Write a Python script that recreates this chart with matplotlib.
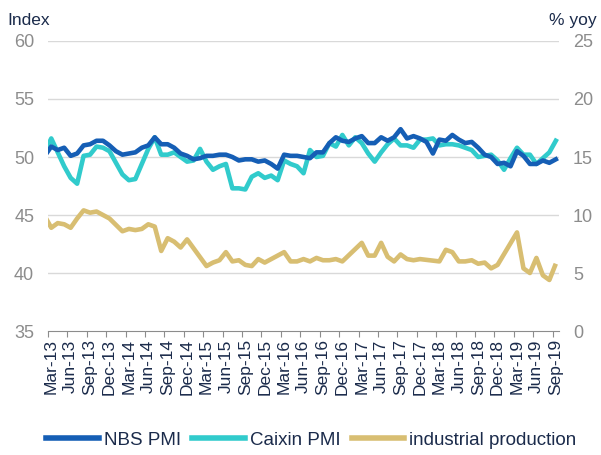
import numpy as np
import matplotlib
matplotlib.use("Agg")
import matplotlib.pyplot as plt
from matplotlib.lines import Line2D

plt.rcParams['font.family'] = ['Liberation Sans', 'DejaVu Sans']

# Monthly data, Feb-13 .. Sep-19 (first point partly clipped at left edge)
months = ['Feb-13','Mar-13','Apr-13','May-13','Jun-13','Jul-13','Aug-13','Sep-13','Oct-13','Nov-13','Dec-13',
          'Jan-14','Feb-14','Mar-14','Apr-14','May-14','Jun-14','Jul-14','Aug-14','Sep-14','Oct-14','Nov-14','Dec-14',
          'Jan-15','Feb-15','Mar-15','Apr-15','May-15','Jun-15','Jul-15','Aug-15','Sep-15','Oct-15','Nov-15','Dec-15',
          'Jan-16','Feb-16','Mar-16','Apr-16','May-16','Jun-16','Jul-16','Aug-16','Sep-16','Oct-16','Nov-16','Dec-16',
          'Jan-17','Feb-17','Mar-17','Apr-17','May-17','Jun-17','Jul-17','Aug-17','Sep-17','Oct-17','Nov-17','Dec-17',
          'Jan-18','Feb-18','Mar-18','Apr-18','May-18','Jun-18','Jul-18','Aug-18','Sep-18','Oct-18','Nov-18','Dec-18',
          'Jan-19','Feb-19','Mar-19','Apr-19','May-19','Jun-19','Jul-19','Aug-19','Sep-19']

nbs_pmi = [50.1, 50.9, 50.6, 50.8, 50.1, 50.3, 51.0, 51.1, 51.4, 51.4, 51.0,
           50.5, 50.2, 50.3, 50.4, 50.8, 51.0, 51.7, 51.1, 51.1, 50.8, 50.3, 50.1,
           49.8, 49.9, 50.1, 50.1, 50.2, 50.2, 50.0, 49.7, 49.8, 49.8, 49.6, 49.7,
           49.4, 49.0, 50.2, 50.1, 50.1, 50.0, 49.9, 50.4, 50.4, 51.2, 51.7, 51.4,
           51.3, 51.6, 51.8, 51.2, 51.2, 51.7, 51.4, 51.7, 52.4, 51.6, 51.8, 51.6,
           51.3, 50.3, 51.5, 51.4, 51.9, 51.5, 51.2, 51.3, 50.8, 50.2, 50.0, 49.4,
           49.5, 49.2, 50.5, 50.1, 49.4, 49.4, 49.7, 49.5, 49.8]

caixin_pmi = [50.4, 51.6, 50.4, 49.2, 48.2, 47.7, 50.1, 50.2, 50.9, 50.8, 50.5,
              49.5, 48.5, 48.0, 48.1, 49.4, 50.7, 51.7, 50.2, 50.2, 50.4, 50.0, 49.6,
              49.7, 50.7, 49.6, 48.9, 49.2, 49.4, 47.3, 47.3, 47.2, 48.3, 48.6, 48.2,
              48.4, 48.0, 49.7, 49.4, 49.2, 48.6, 50.6, 50.0, 50.1, 51.2, 50.9, 51.9,
              51.0, 51.7, 51.2, 50.3, 49.6, 50.4, 51.1, 51.6, 51.0, 51.0, 50.8, 51.5,
              51.5, 51.6, 51.0, 51.1, 51.1, 51.0, 50.8, 50.6, 50.0, 50.1, 50.2, 49.7,
              48.9, 49.9, 50.8, 50.2, 50.2, 49.4, 49.9, 50.4, 51.4]

nan = np.nan
industrial_production = [9.9, 8.9, 9.3, 9.2, 8.9, 9.7, 10.4, 10.2, 10.3, 10.0, 9.7,
                         nan, 8.6, 8.8, 8.7, 8.8, 9.2, 9.0, 6.9, 8.0, 7.7, 7.2, 7.9,
                         nan, nan, 5.6, 5.9, 6.1, 6.8, 6.0, 6.1, 5.7, 5.6, 6.2, 5.9,
                         nan, nan, 6.8, 6.0, 6.0, 6.2, 6.0, 6.3, 6.1, 6.1, 6.2, 6.0,
                         nan, nan, 7.6, 6.5, 6.5, 7.6, 6.4, 6.0, 6.6, 6.2, 6.1, 6.2,
                         nan, nan, 6.0, 7.0, 6.8, 6.0, 6.0, 6.1, 5.8, 5.9, 5.4, 5.7,
                         nan, nan, 8.5, 5.4, 5.0, 6.3, 4.8, 4.4, 5.8]

tick_labels = ['Mar-13','Jun-13','Sep-13','Dec-13','Mar-14','Jun-14','Sep-14','Dec-14','Mar-15',
               'Jun-15','Sep-15','Dec-15','Mar-16','Jun-16','Sep-16','Dec-16','Mar-17','Jun-17',
               'Sep-17','Dec-17','Mar-18','Jun-18','Sep-18','Dec-18','Mar-19','Jun-19','Sep-19']

C_NBS = '#155EB5'
C_CX = '#31CBCC'
C_IP = '#D8BE72'
TXT = '#1B2B4B'
GRAY = '#8C8C8C'

x = np.arange(len(months)) - 1  # Mar-13 at 0

fig = plt.figure(figsize=(6.01, 4.55), dpi=100)
ax = fig.add_axes([0.0799, 0.2725, 0.8503, 0.6374])
ax2 = ax.twinx()

ax.set_xlim(-0.5, 78.5)
ax.set_ylim(35, 60)
ax2.set_ylim(0, 25)
ax.set_yticks([35, 40, 45, 50, 55, 60])
ax2.set_yticks([0, 5, 10, 15, 20, 25])

for yv in [40, 45, 50, 55, 60]:
    ax.axhline(yv, color='#D9D9D9', lw=1.0, zorder=0)

ipa = np.array(industrial_production, dtype=float)
m = ~np.isnan(ipa)
ax2.plot(x[m], ipa[m], color=C_IP, lw=3.3, solid_joinstyle='round', solid_capstyle='butt')
ax.plot(x, caixin_pmi, color=C_CX, lw=3.3, solid_joinstyle='round', zorder=3)
ax.plot(x, nbs_pmi, color=C_NBS, lw=3.3, solid_joinstyle='round', zorder=4)

ax.set_xticks(np.arange(0, 79, 3))
ax.set_xticklabels(tick_labels, rotation=90, color=TXT, fontsize=12.5)
ax.set_xticks(np.arange(-0.5, 79, 3), minor=True)
ax.tick_params(axis='x', which='major', length=0, pad=6)
ax.tick_params(axis='x', which='minor', length=4, color=GRAY, width=0.8, direction='out')

ax.tick_params(axis='y', length=0, labelsize=13, labelcolor=GRAY, pad=10)
ax2.tick_params(axis='y', length=0, labelsize=13, labelcolor=GRAY, pad=10)

for a in (ax, ax2):
    for s in ['top', 'left', 'right']:
        a.spines[s].set_visible(False)
ax.spines['bottom'].set_color(GRAY)
ax.spines['bottom'].set_linewidth(0.8)
ax2.spines['bottom'].set_visible(False)

fig.text(0.012, 0.955, 'Index', color=TXT, fontsize=12.5, ha='left', va='center')
fig.text(0.993, 0.955, '% yoy', color=TXT, fontsize=12.5, ha='right', va='center')

handles = [Line2D([], [], color=C_NBS, lw=4),
           Line2D([], [], color=C_CX, lw=4),
           Line2D([], [], color=C_IP, lw=4)]
fig.legend(handles, ['NBS PMI', 'Caixin PMI', 'industrial production'],
           loc='center', bbox_to_anchor=(0.518, 0.032), ncol=3, frameon=False,
           fontsize=13.5, handlelength=2.8, handletextpad=0.27, columnspacing=0.6,
           labelcolor=TXT)

fig.savefig('out.png', dpi=100)
